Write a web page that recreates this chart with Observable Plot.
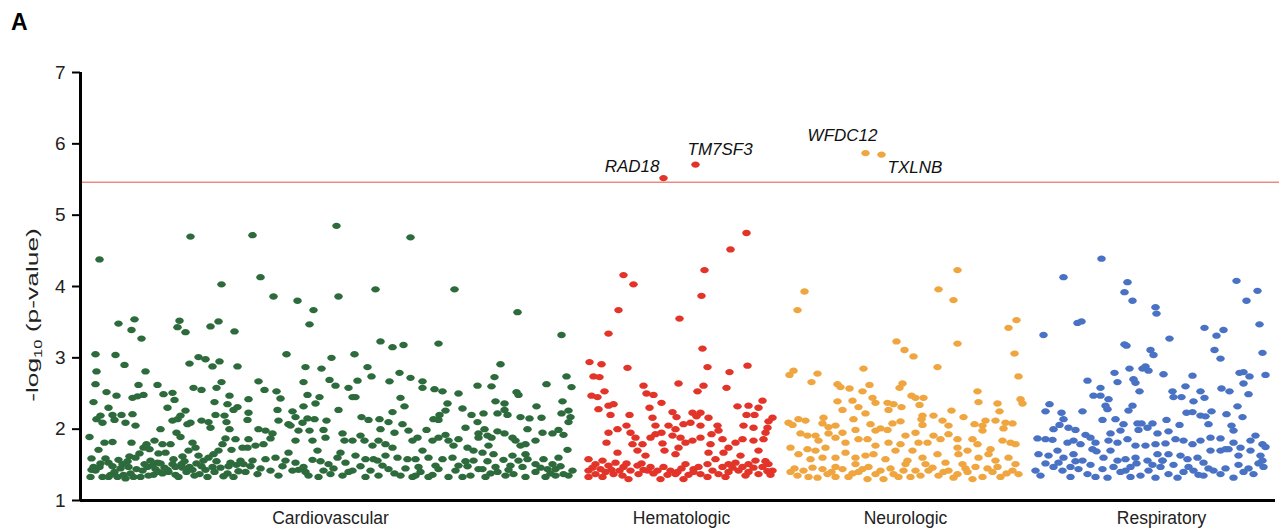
<!DOCTYPE html>
<html><head><meta charset="utf-8">
<script src="https://cdn.jsdelivr.net/npm/d3@7"></script>
<script src="https://cdn.jsdelivr.net/npm/@observablehq/plot@0.6"></script>
<style>
body{margin:0;background:#fff;font-family:"Liberation Sans",Arial,sans-serif;}
#wrap{position:relative;width:1279px;height:531px;}
#panel{position:absolute;left:11px;top:9px;font-size:23px;font-weight:bold;color:#000;}
</style></head><body><div id="wrap"><div id="panel">A</div></div>
<script>
const categories = ["Cardiovascular", "Hematologic", "Neurologic", "Respiratory"];
const categoryTicks = [260, 611, 835, 1091];
const categoryColors = ["#2e6b3c", "#e3342a", "#f0a640", "#4a72c4"];
const threshold = 5.46;
const geneLabels = ["RAD18", "TM7SF3", "WFDC12", "TXLNB"];
const yTicks = [1, 2, 3, 4, 5, 6, 7];

// [position index, -log10(p)]
const cardiovascular = [
[120,4.70],[29,4.38],[151,4.03],[48,3.48],[64,3.54],[61,3.39],[71,3.27],[109,3.52],[107,3.43],[115,3.36],[140,3.44],[148,3.51],[164,3.37],[25,3.05],[45,3.04],[54,2.90],[26,2.81],[75,2.81],[119,2.92],[128,3.01],[135,2.98],[142,2.88],[149,2.95],[167,2.88],[25,2.63],[36,2.52],[46,2.47],[68,2.62],[87,2.62],[62,2.44],[67,2.46],[73,2.48],[93,2.49],[102,2.51],[104,2.41],[123,2.58],[131,2.55],[146,2.58],[151,2.66],[159,2.47],[23,2.38],[38,2.30],[97,2.30],[144,2.38],[157,2.35],[167,2.31],[163,2.27],[115,2.26],[26,2.14],[30,2.19],[32,2.09],[42,2.20],[44,2.13],[51,2.20],[55,2.09],[62,2.21],[65,2.05],[90,2.00],[102,2.12],[107,2.14],[110,2.19],[106,1.95],[110,1.89],[117,2.07],[120,2.09],[131,2.12],[138,2.10],[140,2.02],[145,2.20],[154,2.19],[156,2.10],[159,2.00],[19,1.89],
[28,1.71],[34,1.81],[42,1.82],[21,1.59],[23,1.47],[21,1.43],[29,1.47],[35,1.59],[38,1.53],[42,1.48],[48,1.57],[52,1.51],[57,1.55],[59,1.62],[61,1.81],[65,1.60],[69,1.66],[73,1.74],[76,1.79],[79,1.72],[84,1.84],[88,1.66],[87,1.53],[92,1.79],[95,1.67],[100,1.79],[102,1.51],[94,1.46],[98,1.40],[105,1.36],[111,1.51],[112,1.62],[118,1.70],[122,1.81],[125,1.74],[128,1.63],[133,1.56],[138,1.60],[143,1.65],[148,1.70],[152,1.79],[155,1.87],[161,1.71],[165,1.86],[160,1.53],[170,1.56],[173,1.51],[20,1.33],[32,1.33],[38,1.33],[47,1.33],[55,1.31],[70,1.33],[78,1.35],[85,1.44],[92,1.38],[105,1.47],[112,1.46],[122,1.43],[129,1.37],[135,1.43],[142,1.47],[150,1.46],[157,1.38],[163,1.33],[168,1.41],[172,1.74],[74,1.51],[80,1.56],
[25,1.42],[44,1.40],[50,1.45],[60,1.38],[66,1.44],[82,1.49],[88,1.40],[116,1.40],[126,1.52],[146,1.55],
[182,4.72],[266,4.85],[340,4.69],[190,4.13],[203,3.86],[227,3.80],[243,3.67],[239,3.47],[268,3.86],[305,3.96],[310,3.23],[322,3.15],[333,3.18],[216,3.05],[261,3.00],[284,3.05],[235,2.87],[251,2.85],[297,2.87],[301,2.74],[329,2.79],[340,2.72],[188,2.67],[233,2.66],[259,2.69],[265,2.61],[278,2.58],[287,2.68],[319,2.67],[194,2.55],[206,2.53],[210,2.43],[178,2.42],[237,2.48],[249,2.45],[245,2.36],[282,2.45],[285,2.45],[330,2.44],[334,2.32],[178,2.23],[177,2.13],[207,2.27],[208,2.12],[222,2.25],[233,2.32],[268,2.27],[291,2.17],[298,2.13],[309,2.14],[318,2.10],[322,2.24],[218,2.07],[225,2.17],[232,2.09],[237,2.15],[244,2.14],[256,2.12],[253,1.99],[188,2.00],[195,1.98],[200,1.87],[178,1.86],[185,1.77],[193,1.79],[202,1.94],[220,2.05],[228,1.98],[225,1.84],[239,1.98],[242,1.84],[255,1.88],[272,1.94],[274,1.84],[282,1.84],[290,1.91],[294,1.84],[302,1.77],[308,1.84],[310,2.00],[315,1.79],[324,1.95],[332,2.07],[338,1.98],[342,1.84],[303,1.58],
[182,1.56],[195,1.58],[205,1.60],[215,1.56],[225,1.53],[233,1.47],[242,1.57],[250,1.55],[258,1.51],[267,1.60],[275,1.53],[285,1.63],[295,1.58],[307,1.56],[315,1.63],[327,1.60],[337,1.58],[187,1.37],[208,1.35],[222,1.42],[235,1.40],[248,1.33],[260,1.37],[272,1.35],[282,1.42],[295,1.33],[308,1.35],[318,1.44],[330,1.35],[342,1.33],[218,1.67],[247,1.70],[270,1.67],[322,1.74],[177,1.74],
[384,3.96],[447,3.64],[491,3.32],[368,3.20],[430,2.91],[424,2.73],[496,2.74],[352,2.67],[352,2.58],[364,2.56],[372,2.53],[388,2.50],[407,2.61],[421,2.60],[446,2.52],[448,2.48],[476,2.63],[501,2.59],[377,2.36],[375,2.26],[392,2.29],[425,2.39],[434,2.36],[466,2.32],[492,2.39],[363,2.14],[369,2.20],[368,2.13],[401,2.20],[413,2.22],[407,2.10],[427,2.22],[434,2.27],[437,2.20],[450,2.17],[459,2.15],[471,2.16],[491,2.22],[498,2.26],[500,2.17],[498,2.10],[356,1.99],[347,1.88],[395,2.02],[408,1.94],[414,2.00],[417,1.91],[427,1.97],[421,1.88],[434,1.94],[442,1.88],[445,1.84],[457,2.00],[472,1.95],[482,1.94],[488,1.99],[493,1.92],[465,1.84],[450,1.77],[455,1.79],[362,1.84],[368,1.88],[375,1.92],[378,1.84],[383,1.77],[388,1.86],[397,1.74],[403,1.70],[408,1.88],[412,1.67],[418,1.77],
[345,1.58],[352,1.70],[358,1.60],[365,1.49],[372,1.58],[382,1.60],[388,1.49],[395,1.55],[403,1.56],[412,1.44],[417,1.55],[425,1.47],[433,1.57],[440,1.49],[448,1.56],[457,1.58],[465,1.51],[473,1.58],[482,1.51],[488,1.60],[497,1.71],[345,1.35],[358,1.33],[368,1.44],[378,1.33],[392,1.33],[400,1.35],[408,1.44],[415,1.33],[427,1.40],[435,1.35],[443,1.37],[455,1.33],[465,1.40],[475,1.33],[485,1.35],[493,1.37],[498,1.35],[348,1.47],[423,1.65],[442,1.63],[455,1.65],[477,1.44],[485,1.44],
[30,1.52],[40,1.36],[53,1.36],[58,1.47],[63,1.33],[72,1.42],[77,1.47],[83,1.36],[90,1.52],[97,1.43],[103,1.58],[108,1.33],[114,1.55],[119,1.47],[124,1.35],[131,1.48],[137,1.33],[144,1.40],[153,1.34],[158,1.48],[166,1.50],[175,1.40],[180,1.48],[190,1.45],[200,1.42],[212,1.48],[228,1.43],[238,1.35],[253,1.42],[263,1.45],[278,1.40],[290,1.48],[300,1.42],[312,1.49],[324,1.38],[335,1.45],[350,1.40],[362,1.36],[385,1.42],[397,1.48],[420,1.38],[438,1.43],[452,1.47],[470,1.46],[480,1.38],[490,1.48],[502,1.42]
];
const hematologic = [
[593,5.52],[625,5.71],[676,4.75],[660,4.52],[634,4.23],[631,3.87],[553,4.16],[563,4.03],[548,3.67],[538,3.34],[609,3.55],[632,3.13],[519,2.94],[531,2.91],[557,2.86],[637,2.87],[659,2.80],[677,2.89],[523,2.74],[529,2.73],[608,2.64],[633,2.61],[627,2.53],[573,2.61],[656,2.58],[534,2.53],[527,2.45],[521,2.47],[528,2.28],[576,2.50],[583,2.48],[591,2.37],[538,2.33],[543,2.35],[540,2.20],[579,2.30],[602,2.24],[606,2.17],[622,2.23],[626,2.18],[630,2.23],[559,2.20],[582,2.16],[638,2.16],[667,2.32],[678,2.33],[688,2.30],[692,2.40],[676,2.20],[684,2.20],[702,2.16],[698,2.11],[556,2.05],[547,2.00],[538,1.95],[536,1.81],[585,2.05],[598,2.05],[605,2.00],[591,1.95],[613,2.07],[620,2.09],[630,2.05],[647,2.05],[648,1.98],[641,1.93],[673,2.05],[683,2.02],[697,2.02],[695,1.95],[560,1.95],[565,1.88],[572,1.79],[562,1.79],[567,1.70],[580,1.88],[585,1.93],[592,1.80],[602,1.91],[610,1.88],[615,1.81],[622,1.84],[608,1.74],[630,1.88],[640,1.79],[652,1.86],[658,1.74],[665,1.81],[672,1.86],[683,1.84],[693,1.86],[688,1.70],[547,1.67],[575,1.63],[594,1.70],[605,1.65],[638,1.67],[653,1.67],[670,1.63],
[518,1.58],[525,1.51],[532,1.56],[538,1.49],[545,1.53],[553,1.47],[560,1.42],[567,1.49],[573,1.43],[580,1.47],[587,1.42],[593,1.47],[600,1.42],[607,1.40],[615,1.51],[623,1.44],[630,1.37],[637,1.51],[645,1.58],[652,1.47],[658,1.51],[665,1.53],[672,1.47],[678,1.51],[685,1.56],[692,1.47],[698,1.51],[702,1.42],[518,1.42],[525,1.37],[535,1.40],[543,1.37],[552,1.35],[558,1.30],[568,1.37],[577,1.42],[590,1.30],[605,1.37],[613,1.30],[623,1.40],[637,1.33],[648,1.37],[658,1.40],[668,1.42],[678,1.40],[688,1.37],[697,1.41],[518,1.33],[532,1.33],
[522,1.46],[530,1.44],[541,1.43],[549,1.42],[556,1.52],[571,1.52],[583,1.38],[597,1.36],[611,1.45],[618,1.36],[628,1.47],[642,1.42],[655,1.33],[662,1.46],[675,1.35],[683,1.46],[695,1.55],[700,1.36]
];
const neurologic = [
[795,5.87],[811,5.85],[887,4.23],[868,3.96],[883,3.81],[887,3.20],[734,3.93],[727,3.67],[946,3.53],[938,3.42],[944,3.06],[948,2.74],[950,2.42],[952,2.36],[826,3.23],[834,3.11],[843,3.02],[867,2.87],[719,2.76],[723,2.82],[747,2.78],[741,2.66],[793,2.85],[767,2.63],[770,2.59],[779,2.57],[792,2.53],[799,2.62],[829,2.58],[832,2.64],[841,2.47],[845,2.44],[853,2.44],[767,2.39],[772,2.27],[782,2.40],[788,2.31],[802,2.44],[805,2.37],[817,2.37],[823,2.35],[831,2.31],[818,2.27],[795,2.22],[849,2.34],[852,2.19],[851,2.14],[907,2.53],[908,2.38],[927,2.36],[929,2.25],[881,2.26],[718,2.09],[722,2.06],[728,2.14],[735,2.12],[753,2.16],[752,2.08],[758,2.03],[765,2.05],[772,1.95],[783,2.14],[785,1.99],[800,2.07],[805,1.98],[810,2.01],[817,1.99],[822,2.08],[830,2.11],[835,1.91],[845,1.95],[852,2.06],[863,2.19],[872,2.12],[878,2.05],[893,2.17],[904,2.07],[912,2.05],[915,2.12],[925,2.12],[935,2.09],[942,2.08],[933,2.01],[912,1.98],[730,1.94],[737,1.91],[745,1.91],[748,1.84],[758,1.94],[765,1.88],[775,1.81],[788,1.86],[797,1.86],[805,1.77],[818,1.81],[830,1.79],[842,1.70],[848,1.81],[857,1.81],[863,1.91],[870,1.86],[878,1.93],[887,1.86],[887,1.74],[902,1.86],[907,1.79],[920,1.72],[932,1.84],[940,1.81],[945,1.79],[720,1.74],[728,1.65],[737,1.72],[745,1.70],[755,1.74],[740,1.58],[752,1.60],[765,1.60],[775,1.67],[785,1.60],[795,1.63],[803,1.65],[815,1.58],[825,1.70],[837,1.56],[852,1.60],[867,1.65],[875,1.53],[888,1.65],[897,1.70],[908,1.60],[918,1.65],[925,1.56],[938,1.60],[945,1.51],
[720,1.40],[727,1.35],[738,1.33],[747,1.32],[757,1.37],[765,1.33],[772,1.44],[778,1.33],[788,1.40],[797,1.30],[805,1.37],[813,1.30],[823,1.37],[833,1.42],[840,1.33],[850,1.35],[858,1.42],[868,1.35],[878,1.42],[887,1.37],[897,1.40],[902,1.30],[912,1.33],[922,1.40],[930,1.33],[942,1.42],[948,1.37],[765,1.47],[798,1.47],[892,1.51],[905,1.47],[855,1.51],[835,1.51],[785,1.51],
[724,1.45],[733,1.42],[742,1.46],[752,1.44],[761,1.40],[782,1.38],[792,1.44],[810,1.42],[820,1.45],[828,1.33],[845,1.42],[862,1.46],[873,1.40],[883,1.32],[895,1.45],[917,1.45],[927,1.47],[936,1.38]
];
const respiratory = [
[1031,4.39],[993,4.13],[1057,4.06],[1054,3.92],[1062,3.80],[1085,3.71],[1086,3.62],[1166,4.08],[1187,3.94],[1176,3.80],[1189,3.47],[1007,3.49],[1011,3.51],[973,3.32],[1099,3.27],[1134,3.42],[1153,3.39],[1146,3.31],[1054,3.19],[1056,3.17],[1080,3.11],[1083,3.04],[1144,3.11],[1150,2.99],[1192,3.07],[1075,2.88],[1072,2.85],[1078,2.82],[1059,2.85],[1044,2.79],[1047,2.66],[1017,2.68],[1063,2.70],[1065,2.65],[1093,2.77],[1122,2.75],[1169,2.79],[1173,2.80],[1179,2.74],[1173,2.64],[1195,2.76],[1030,2.58],[1023,2.47],[1030,2.47],[1069,2.53],[1102,2.53],[1103,2.45],[1111,2.45],[1115,2.60],[1130,2.53],[1134,2.44],[1151,2.57],[1159,2.53],[1178,2.49],[1038,2.42],[1035,2.33],[1037,2.28],[979,2.35],[975,2.25],[991,2.23],[993,2.14],[1012,2.25],[1062,2.33],[1058,2.26],[1123,2.39],[1116,2.23],[1122,2.24],[1130,2.19],[1135,2.18],[1141,2.25],[1156,2.21],[1167,2.32],[1172,2.17],[1032,2.13],[1045,2.14],[1053,2.07],[1067,2.08],[1071,2.08],[1077,2.02],[1082,2.08],[1096,2.13],[1109,2.06],[1138,2.07],[1161,2.05],[1163,1.98],[983,2.00],[989,2.06],[998,2.02],[1005,1.99],[1015,1.92],[1040,1.94],[1050,1.98],[1068,1.99],[1087,1.94],[1098,1.97],[967,1.87],[975,1.86],[982,1.85],[997,1.81],[1003,1.84],[1010,1.79],[1020,1.88],[1025,1.81],[1038,1.84],[1047,1.81],[1057,1.86],[1065,1.77],[1075,1.77],[1085,1.79],[1095,1.80],[1105,1.86],[1113,1.84],[1122,1.79],[1130,1.84],[1140,1.88],[1150,1.87],[1155,1.72],[1163,1.81],[1170,1.74],[1180,1.84],[1185,1.91],[1192,1.79],[1195,1.75],
[968,1.65],[978,1.63],[987,1.70],[993,1.60],[1003,1.65],[1012,1.56],[1022,1.72],[1026,1.69],[1033,1.60],[1040,1.70],[1047,1.56],[1055,1.58],[1065,1.60],[1077,1.56],[1087,1.65],[1092,1.56],[1098,1.65],[1110,1.63],[1117,1.58],[1127,1.60],[1140,1.70],[1150,1.70],[1158,1.72],[1168,1.63],[1180,1.70],[1190,1.63],[1192,1.56],
[965,1.42],[970,1.35],[983,1.47],[992,1.42],[1000,1.33],[1008,1.44],[1017,1.37],[1025,1.33],[1032,1.44],[1037,1.32],[1050,1.40],[1060,1.33],[1070,1.35],[1078,1.42],[1085,1.32],[1092,1.56],[1098,1.37],[1107,1.32],[1113,1.40],[1123,1.42],[1133,1.35],[1143,1.42],[1150,1.37],[1163,1.32],[1173,1.40],[1183,1.37],[1193,1.47],[1000,1.47],[1060,1.47],[1090,1.47],[1133,1.53],
[975,1.52],[988,1.53],[1005,1.55],[1020,1.50],[1043,1.47],[1055,1.42],[1066,1.52],[1082,1.50],[1103,1.50],[1118,1.47],[1128,1.36],[1138,1.45],[1155,1.45],[1168,1.50],[1178,1.45],[1188,1.52]
];

const rows = [];
[cardiovascular, hematologic, neurologic, respiratory].forEach((pts, i) =>
  pts.forEach(([pos, logp]) => rows.push({category: categories[i], pos, logp})));
const hits = rows.filter(d => d.logp > threshold).sort((a, b) => a.pos - b.pos)
  .map((d, i) => ({...d, gene: geneLabels[i]}));
const tickName = new Map(categoryTicks.map((t, i) => [t, categories[i]]));

const ellipse = {
  draw(ctx, size) {
    const r = Math.sqrt(size / Math.PI), rx = r * 1.15, ry = r * 0.85, k = 0.5523;
    ctx.moveTo(rx, 0);
    ctx.bezierCurveTo(rx, ry * k, rx * k, ry, 0, ry);
    ctx.bezierCurveTo(-rx * k, ry, -rx, ry * k, -rx, 0);
    ctx.bezierCurveTo(-rx, -ry * k, -rx * k, -ry, 0, -ry);
    ctx.bezierCurveTo(rx * k, -ry, rx, -ry * k, rx, 0);
    ctx.closePath();
  }
};

const labelStyle = {x: "pos", y: "logp", text: "gene", fontSize: 17, fontStyle: "italic", fill: "#111"};
const plot = Plot.plot({
  width: 1279, height: 531,
  marginTop: 72, marginBottom: 31, marginLeft: 80, marginRight: 4,
  x: {domain: [10, 1205]},
  y: {domain: [1, 7]},
  color: {domain: categories, range: categoryColors},
  style: {fontFamily: "'Liberation Sans', Arial, sans-serif", fontSize: "16px", background: "white", color: "#222"},
  marks: [
    Plot.ruleY([threshold], {stroke: "#ee8a84", strokeWidth: 1.5, x1: 10, x2: 1209}),
    Plot.dot(rows, {x: "pos", y: "logp", fill: "category", r: 3.7, symbol: ellipse}),
    Plot.axisY({ticks: yTicks, tickSize: 8, tickPadding: 7, fontSize: 19, strokeWidth: 2, stroke: "#000", label: null, tickFormat: d => d}),
    Plot.axisX({ticks: categoryTicks, tickSize: 0, tickPadding: 11, fontSize: 17.5, label: null, tickFormat: d => tickName.get(d)}),
    Plot.ruleX([10], {y1: 1, y2: 7, stroke: "#000", strokeWidth: 3}),
    Plot.ruleY([1], {x1: 10, x2: 1205, stroke: "#000", strokeWidth: 3}),
    Plot.text(hits.filter(d => d.gene === "RAD18"), {...labelStyle, textAnchor: "end", dx: -4, dy: -12}),
    Plot.text(hits.filter(d => d.gene === "TM7SF3"), {...labelStyle, textAnchor: "start", dx: -8, dy: -15}),
    Plot.text(hits.filter(d => d.gene === "WFDC12"), {...labelStyle, textAnchor: "end", dx: 12, dy: -18}),
    Plot.text(hits.filter(d => d.gene === "TXLNB"), {...labelStyle, textAnchor: "start", dx: 6, dy: 13})
  ]
});

const svg = d3.select(plot);
const lab = svg.append("text")
  .attr("transform", "translate(38,315) rotate(-90) scale(1.65,1)")
  .attr("text-anchor", "middle")
  .attr("font-size", 16)
  .attr("fill", "#222");
lab.append("tspan").text("-log");
lab.append("tspan").attr("font-size", 10).attr("dy", 4).text("10");
lab.append("tspan").attr("dy", -4).text(" (p-value)");

document.getElementById("wrap").prepend(plot);
</script></body></html>
